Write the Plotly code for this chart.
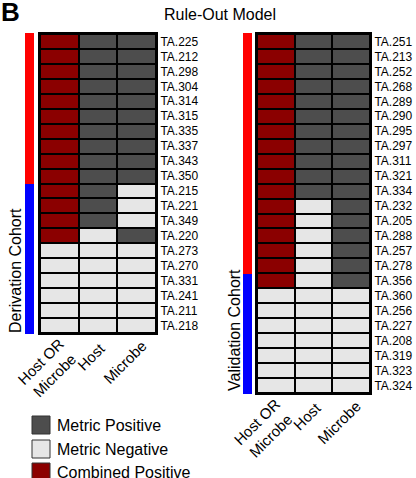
import plotly.graph_objects as go

W, H = 416, 478

# ---------------- data ----------------
columns = ["Host OR<br>Microbe", "Host", "Microbe"]

deriv_ids = ["TA.225", "TA.212", "TA.298", "TA.304", "TA.314", "TA.315", "TA.335",
             "TA.337", "TA.343", "TA.350", "TA.215", "TA.221", "TA.349", "TA.220",
             "TA.273", "TA.270", "TA.331", "TA.241", "TA.211", "TA.218"]
deriv_host_or_microbe = [1, 1, 1, 1, 1, 1, 1, 1, 1, 1, 1, 1, 1, 1, 0, 0, 0, 0, 0, 0]
deriv_host = [1, 1, 1, 1, 1, 1, 1, 1, 1, 1, 1, 1, 1, 0, 0, 0, 0, 0, 0, 0]
deriv_microbe = [1, 1, 1, 1, 1, 1, 1, 1, 1, 1, 0, 0, 0, 1, 0, 0, 0, 0, 0, 0]
deriv_group = [1, 1, 1, 1, 1, 1, 1, 1, 1, 1, 0, 0, 0, 0, 0, 0, 0, 0, 0, 0]

valid_ids = ["TA.251", "TA.213", "TA.252", "TA.268", "TA.289", "TA.290", "TA.295",
             "TA.297", "TA.311", "TA.321", "TA.334", "TA.232", "TA.205", "TA.288",
             "TA.257", "TA.278", "TA.356", "TA.360", "TA.256", "TA.227", "TA.208",
             "TA.319", "TA.323", "TA.324"]
valid_host_or_microbe = [1, 1, 1, 1, 1, 1, 1, 1, 1, 1, 1, 1, 1, 1, 1, 1, 1, 0, 0, 0, 0, 0, 0, 0]
valid_host = [1, 1, 1, 1, 1, 1, 1, 1, 1, 1, 1, 0, 0, 0, 0, 0, 0, 0, 0, 0, 0, 0, 0, 0]
valid_microbe = [1, 1, 1, 1, 1, 1, 1, 1, 1, 1, 1, 1, 1, 1, 1, 1, 1, 0, 0, 0, 0, 0, 0, 0]
valid_group = [1, 1, 1, 1, 1, 1, 1, 1, 1, 1, 1, 1, 1, 1, 1, 1, 0, 0, 0, 0, 0, 0, 0, 0]

legend_labels = ["Metric Positive", "Metric Negative", "Combined Positive"]

# ---------------- styling ----------------
C_NEG = "#E6E6E6"
C_POS = "#4D4D4D"
C_COMB = "#8B0000"
C_RED = "#FF0000"
C_BLUE = "#0000FF"
FONT = "Liberation Sans, Arial, sans-serif"

cell_scale = [[0, C_NEG], [0.3333, C_NEG], [0.3333, C_POS], [0.6667, C_POS],
              [0.6667, C_COMB], [1, C_COMB]]
group_scale = [[0, C_BLUE], [0.5, C_BLUE], [0.5, C_RED], [1, C_RED]]

# rotated column-label placement (pixel offsets of label centre from column centre / panel bottom)
label_offsets = [(-11.5, 34.5), (-7, 22), (-12.5, 28)]


def px_x(x):
    return x / W


def px_y(y):
    return 1 - y / H


def build_z(comb, host, mic):
    return [[2 * c, h, m] for c, h, m in zip(comb, host, mic)]


fig = go.Figure()

fig.add_trace(go.Heatmap(
    z=build_z(deriv_host_or_microbe, deriv_host, deriv_microbe),
    x=columns, y=deriv_ids, colorscale=cell_scale, zmin=0, zmax=2,
    showscale=False, xgap=2, ygap=2, xaxis="x", yaxis="y", hoverinfo="skip"))

fig.add_trace(go.Heatmap(
    z=build_z(valid_host_or_microbe, valid_host, valid_microbe),
    x=columns, y=valid_ids, colorscale=cell_scale, zmin=0, zmax=2,
    showscale=False, xgap=2, ygap=2, xaxis="x2", yaxis="y2", hoverinfo="skip"))

fig.add_trace(go.Heatmap(
    z=[[g] for g in deriv_group], x=["g"], y=deriv_ids, colorscale=group_scale,
    zmin=0, zmax=1, showscale=False, xaxis="x3", yaxis="y3", hoverinfo="skip"))

fig.add_trace(go.Heatmap(
    z=[[g] for g in valid_group], x=["g"], y=valid_ids, colorscale=group_scale,
    zmin=0, zmax=1, showscale=False, xaxis="x4", yaxis="y4", hoverinfo="skip"))

ncol = len(columns)
xcommon = dict(showline=True, mirror=True, linecolor="black", linewidth=2,
               ticks="", showticklabels=False, automargin=False,
               type="category", range=[-0.5, ncol - 0.5], autorange=False,
               showgrid=False, zeroline=False, fixedrange=True)
ycommon = dict(showline=True, mirror=True, linecolor="black", linewidth=2,
               ticks="", side="right", autorange="reversed", automargin=False,
               tickfont=dict(size=12, color="black", family=FONT),
               showgrid=False, zeroline=False, fixedrange=True)
hidden = dict(visible=False, fixedrange=True, automargin=False)

LEFT_BOTTOM, RIGHT_BOTTOM = 334, 394

fig.update_layout(
    template="none",
    width=W, height=H,
    margin=dict(l=0, r=0, t=0, b=0, pad=0),
    paper_bgcolor="white", plot_bgcolor="black",
    font=dict(family=FONT, color="black"),
    xaxis=dict(domain=[px_x(40), px_x(156)], anchor="y", **xcommon),
    yaxis=dict(domain=[px_y(LEFT_BOTTOM - 1), px_y(34)], anchor="x", **ycommon),
    xaxis2=dict(domain=[px_x(257), px_x(370)], anchor="y2", **xcommon),
    yaxis2=dict(domain=[px_y(RIGHT_BOTTOM - 1), px_y(34)], anchor="x2", **ycommon),
    xaxis3=dict(domain=[px_x(25), px_x(34)], anchor="y3", **hidden),
    yaxis3=dict(domain=[px_y(LEFT_BOTTOM), px_y(33)], anchor="x3", autorange="reversed", **hidden),
    xaxis4=dict(domain=[px_x(243), px_x(252)], anchor="y4", **hidden),
    yaxis4=dict(domain=[px_y(RIGHT_BOTTOM), px_y(33)], anchor="x4", autorange="reversed", **hidden),
)

annotations = [
    dict(text="<b>B</b>", x=px_x(-1), y=px_y(12), xanchor="left", yanchor="middle",
         font=dict(size=26, family=FONT)),
    dict(text="Rule-Out Model", x=px_x(220), y=px_y(14), xanchor="center", yanchor="middle",
         font=dict(size=16, family=FONT)),
    dict(text="Derivation Cohort", x=px_x(15), y=px_y(271), xanchor="center", yanchor="middle",
         textangle=-90, font=dict(size=16, family=FONT)),
    dict(text="Validation Cohort", x=px_x(234), y=px_y(330), xanchor="center", yanchor="middle",
         textangle=-90, font=dict(size=16, family=FONT)),
]

# rotated column labels positioned through the categorical x axes
for xref, bottom in (("x", LEFT_BOTTOM), ("x2", RIGHT_BOTTOM)):
    for i, lab in enumerate(columns):
        dx, dy = label_offsets[i]
        annotations.append(dict(text=lab, xref=xref, x=i, yref="paper", y=px_y(bottom + dy),
                                xshift=dx, xanchor="center", yanchor="middle", textangle=-45,
                                font=dict(size=15, family=FONT), showarrow=False))

legend_colors = [C_POS, C_NEG, C_COMB]
legend_tops = [416, 440, 463]
shapes = []
for lab, col, top in zip(legend_labels, legend_colors, legend_tops):
    shapes.append(dict(type="rect", xref="paper", yref="paper",
                       x0=px_x(32), x1=px_x(50), y0=px_y(top), y1=px_y(top + 18),
                       fillcolor=col, line=dict(color="#333333", width=1)))
    annotations.append(dict(text=lab, x=px_x(55), y=px_y(top + 9), xanchor="left",
                            yanchor="middle", font=dict(size=16, family=FONT)))
for a in annotations:
    a.setdefault("xref", "paper")
    a.setdefault("yref", "paper")
    a["showarrow"] = False
fig.update_layout(annotations=annotations, shapes=shapes)

fig.write_html("out.html")
